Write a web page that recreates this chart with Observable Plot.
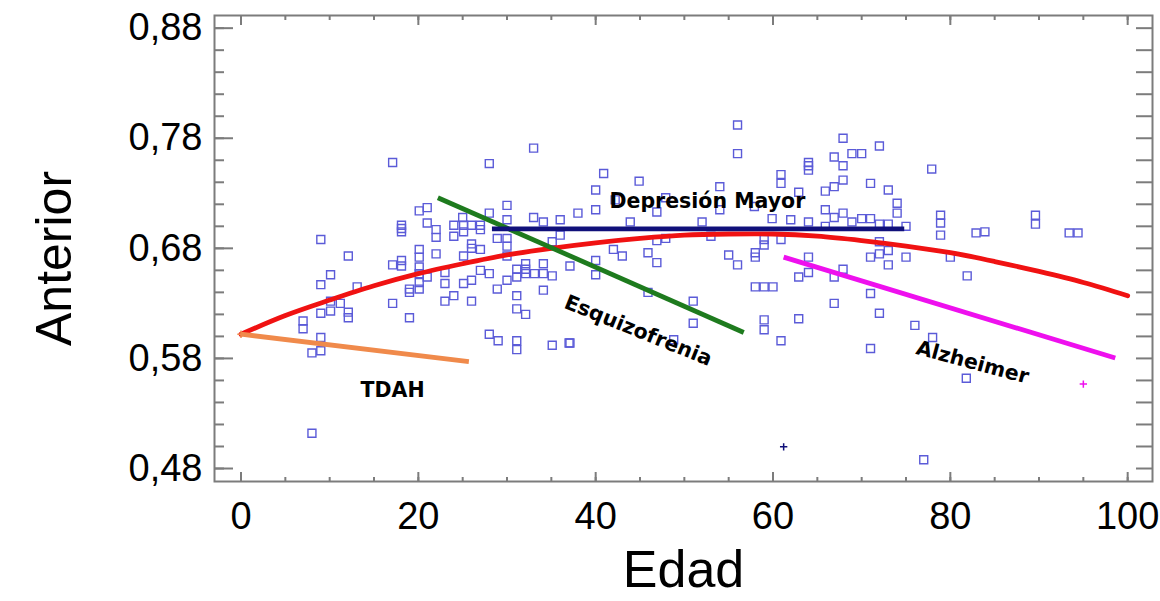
<!DOCTYPE html>
<html><head><meta charset="utf-8">
<script src="https://cdn.jsdelivr.net/npm/d3@7"></script>
<script src="https://cdn.jsdelivr.net/npm/@observablehq/plot@0.6"></script>
<style>body{margin:0;background:#fff;} svg{display:block}</style>
</head><body><div id="chart"></div>
<script>
// Scatter data (Edad, Anterior)
const edad = [
17.1,28.0,9.0,12.1,10.1,9.0,13.1,20.1,21.0,18.1,
18.1,18.1,21.0,22.0,22.0,24.0,25.0,25.1,26.0,25.1,
24.0,27.0,27.0,28.0,30.0,30.0,28.9,30.0,30.0,30.0,
26.0,26.0,27.0,25.1,22.0,20.1,20.1,20.1,18.1,18.1,
17.1,21.0,20.1,20.1,19.0,19.0,20.1,23.0,23.0,24.0,
23.0,25.1,26.0,27.0,28.0,26.0,31.1,32.1,32.1,32.1,
31.1,30.0,28.9,31.1,31.1,32.1,17.1,10.1,10.1,11.2,
12.1,12.1,9.0,7.0,19.0,
7.0,9.0,9.0,8.0,8.0,28.0,29.0,31.1,31.1,35.1,37.1,
56.0,56.0,33.0,40.9,40.0,40.0,44.9,54.0,54.0,38.0,
36.0,33.0,34.1,42.2,46.9,47.9,43.9,52.0,36.0,35.1,
46.9,47.9,53.0,42.0,43.0,45.9,46.9,40.0,40.0,37.1,
33.1,34.1,34.1,35.1,34.1,55.0,56.0,58.0,58.0,58.0,
59.0,60.0,45.9,51.0,
67.9,72.0,66.9,68.9,70.0,67.9,64.0,64.0,64.0,60.9,
60.9,77.9,67.9,66.9,65.9,71.0,73.0,62.9,74.0,74.0,
65.9,66.9,67.9,59.9,62.0,64.0,57.9,65.9,68.9,70.0,
71.0,72.0,73.0,75.0,78.9,78.9,78.9,82.9,83.9,59.0,
59.0,60.9,72.0,72.0,73.0,71.0,73.0,75.0,64.0,64.0,
62.9,67.9,66.9,80.0,81.9,71.0,66.9,72.0,59.0,62.9,
37.0,51.0,48.8,59.0,60.9,
76.0,78.0,71.0,81.8,77.0,
89.6,89.6,93.4,94.4
];
const anterior = [
0.758,0.757,0.688,0.673,0.656,0.647,0.645,0.714,0.717,0.701,
0.698,0.695,0.703,0.697,0.690,0.701,0.708,0.701,0.701,0.695,
0.691,0.701,0.697,0.712,0.719,0.706,0.689,0.689,0.682,0.673,
0.684,0.680,0.679,0.673,0.675,0.679,0.672,0.663,0.669,0.664,
0.665,0.654,0.657,0.649,0.643,0.640,0.643,0.658,0.648,0.637,
0.632,0.648,0.651,0.660,0.657,0.632,0.661,0.666,0.661,0.657,
0.654,0.651,0.643,0.637,0.625,0.620,0.630,0.632,0.623,0.630,
0.622,0.617,0.621,0.614,0.617,
0.607,0.599,0.587,0.585,0.512,0.602,0.596,0.596,0.588,0.592,0.594,
0.792,0.766,0.771,0.748,0.733,0.715,0.741,0.736,0.715,0.712,
0.706,0.708,0.704,0.724,0.713,0.726,0.704,0.704,0.692,0.686,
0.687,0.689,0.691,0.679,0.673,0.676,0.667,0.669,0.656,0.664,
0.657,0.666,0.657,0.655,0.642,0.674,0.665,0.676,0.672,0.645,
0.645,0.645,0.640,0.632,
0.780,0.773,0.763,0.766,0.766,0.755,0.758,0.755,0.751,0.747,
0.739,0.752,0.742,0.736,0.732,0.739,0.733,0.731,0.721,0.712,
0.715,0.708,0.712,0.707,0.706,0.704,0.718,0.700,0.704,0.707,
0.707,0.702,0.702,0.700,0.710,0.703,0.692,0.694,0.695,0.688,
0.683,0.688,0.686,0.675,0.678,0.672,0.665,0.672,0.672,0.658,
0.654,0.661,0.654,0.672,0.655,0.639,0.630,0.621,0.615,0.616,
0.594,0.612,0.597,0.606,0.596,
0.610,0.599,0.589,0.562,0.488,
0.710,0.702,0.694,0.694
];

// Overall fitted curve (red)
const curvaEdad = [0,5,10,15,20,25,30,35,40,45,50,55,60,65,70,75,80,85,90,95,100];
const curvaAnterior = [0.602,0.619,0.633,0.646,0.657,0.666,0.674,0.680,0.685,0.689,0.692,0.693,0.693,0.691,0.687,0.682,0.676,0.668,0.659,0.649,0.637];

// Group trend lines
const grupos = ["TDAH","Esquizofrenia","Depresión Mayor","Alzheimer"];
const grupoEdadInicio = [0, 22.2, 28.3, 61.2];
const grupoEdadFin = [25.7, 56.7, 74.8, 98.6];
const grupoAnteriorInicio = [0.602, 0.726, 0.6976, 0.672];
const grupoAnteriorFin = [0.577, 0.6036, 0.6976, 0.5804];
const grupoColor = ["#f08a4b", "#1e7b1e", "#10107a", "#ee10ee"];

// Group labels
const etiquetaEdad = [17.1, 44.8, 52.6, 82.5];
const etiquetaAnterior = [0.5506, 0.6052, 0.7225, 0.5764];
const etiquetaAngulo = [0, 22, 0, 15];

// Small "+" markers
const cruzEdad = [0, 61.2, 95.0];
const cruzAnterior = [0.602, 0.4997, 0.5567];
const cruzColor = ["#f08a4b", "#10107a", "#ee10ee"];

// Ticks
const xTicks = [0,20,40,60,80,100];
const xMinor = [0,5,10,15,20,25,30,35,40,45,50,55,60,65,70,75,80,85,90,95,100];
const yTicks = [0.48,0.58,0.68,0.78,0.88];
const yMinor = [0.48,0.50,0.52,0.54,0.56,0.58,0.60,0.62,0.64,0.66,0.68,0.70,0.72,0.74,0.76,0.78,0.80,0.82,0.84,0.86,0.88];

const puntos = edad.map((e, i) => ({edad: e, anterior: anterior[i]}));
const curva = curvaEdad.map((e, i) => ({edad: e, anterior: curvaAnterior[i]}));
const segmentos = grupos.map((g, i) => ({grupo: g, x1: grupoEdadInicio[i], x2: grupoEdadFin[i], y1: grupoAnteriorInicio[i], y2: grupoAnteriorFin[i], color: grupoColor[i]}));
const etiquetas = grupos.map((g, i) => ({grupo: g, edad: etiquetaEdad[i], anterior: etiquetaAnterior[i], angulo: etiquetaAngulo[i]}));
const cruces = cruzEdad.map((e, i) => ({edad: e, anterior: cruzAnterior[i], color: cruzColor[i]}));

const W = 1160, H = 601, mL = 214, mR = 8, mT = 15, mB = 120;
const pw = W - mL - mR, ph = H - mT - mB;
const gray = "#7c7c7c";
const fmt = d => d.toFixed(2).replace(".", ",");

const chart = Plot.plot({
  width: W, height: H,
  marginLeft: mL, marginRight: mR, marginTop: mT, marginBottom: mB,
  style: {fontFamily: "'Liberation Sans', Arial, sans-serif", background: "#fff", color: "#000"},
  x: {domain: [-2.99, 102.8]},
  y: {domain: [0.4682, 0.8915]},
  marks: [
    Plot.dot(puntos, {x: "edad", y: "anterior", symbol: "square", r: 4.5, stroke: "#5b5bd8", strokeWidth: 1.4, fill: "none"}),
    Plot.line(curva, {x: "edad", y: "anterior", stroke: "#f01212", strokeWidth: 4.8, curve: "catmull-rom"}),
    Plot.link(segmentos, {x1: "x1", y1: "y1", x2: "x2", y2: "y2", stroke: "color", strokeWidth: 4.8}),
    Plot.dot(cruces, {x: "edad", y: "anterior", symbol: "plus", r: 2.5, stroke: "color", strokeWidth: 1.5}),
    Plot.text(etiquetas, {x: "edad", y: "anterior", text: "grupo", rotate: "angulo", fontFamily: "'DejaVu Sans', sans-serif", fontWeight: "bold", fontSize: 20.5, fill: "#000"}),
    Plot.frame({stroke: gray, strokeWidth: 2}),
    Plot.tickY(yMinor, {stroke: gray, strokeWidth: 2, insetRight: pw - 10}),
    Plot.tickY(yTicks, {stroke: gray, strokeWidth: 2, insetRight: pw - 19}),
    Plot.tickY(yMinor, {stroke: gray, strokeWidth: 2, insetLeft: pw - 16}),
    Plot.tickX(xMinor, {stroke: gray, strokeWidth: 2, insetTop: ph - 4}),
    Plot.tickX(xTicks, {stroke: gray, strokeWidth: 2, insetTop: ph - 9}),
    Plot.tickX(xMinor, {stroke: gray, strokeWidth: 2, insetBottom: ph - 5}),
    Plot.tickX(xTicks, {stroke: gray, strokeWidth: 2, insetBottom: ph - 10}),
    Plot.axisX({ticks: xTicks, tickSize: 0, tickPadding: 21, fontSize: 38, label: null, tickFormat: d => String(d)}),
    Plot.axisY({ticks: yTicks, tickSize: 0, tickPadding: 12, fontSize: 38, label: null, tickFormat: fmt}),
    Plot.text(["Edad"], {frameAnchor: "bottom", lineAnchor: "middle", textAnchor: "middle", dy: 89, fontSize: 52, fill: "#000"}),
    Plot.text(["Anterior"], {frameAnchor: "left", textAnchor: "middle", lineAnchor: "middle", dx: -160, dy: 10, rotate: -90, fontSize: 50, fill: "#000"})
  ]
});
document.getElementById("chart").append(chart);
</script>
</body></html>
